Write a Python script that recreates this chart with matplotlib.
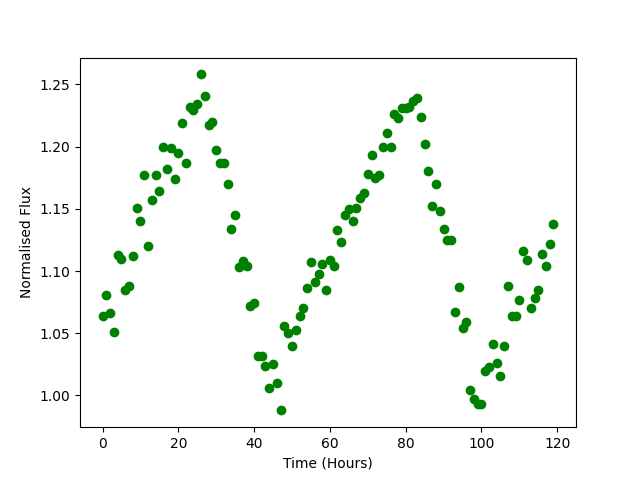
import numpy as np
import matplotlib
matplotlib.use('Agg')
import matplotlib.pyplot as plt

# hourly samples, 0..119 h
time_hours = np.arange(120)
flux = [
    1.064, 1.081, 1.066, 1.051, 1.113, 1.110, 1.085, 1.088, 1.112, 1.151,
    1.140, 1.177, 1.120, 1.157, 1.177, 1.164, 1.200, 1.182, 1.199, 1.174,
    1.195, 1.219, 1.187, 1.232, 1.229, 1.234, 1.258, 1.241, 1.217, 1.220,
    1.197, 1.187, 1.187, 1.170, 1.134, 1.145, 1.103, 1.108, 1.104, 1.072,
    1.074, 1.032, 1.032, 1.024, 1.006, 1.025, 1.010, 0.988, 1.056, 1.050,
    1.040, 1.053, 1.064, 1.070, 1.086, 1.107, 1.091, 1.098, 1.106, 1.085,
    1.109, 1.104, 1.133, 1.123, 1.145, 1.150, 1.140, 1.151, 1.159, 1.163,
    1.178, 1.193, 1.175, 1.177, 1.200, 1.211, 1.200, 1.226, 1.223, 1.231,
    1.231, 1.232, 1.237, 1.239, 1.224, 1.202, 1.180, 1.152, 1.170, 1.148,
    1.134, 1.125, 1.125, 1.067, 1.087, 1.054, 1.059, 1.004, 0.997, 0.993,
    0.993, 1.020, 1.023, 1.041, 1.026, 1.016, 1.040, 1.088, 1.064, 1.064,
    1.077, 1.116, 1.109, 1.070, 1.078, 1.085, 1.114, 1.104, 1.122, 1.138,
]

plt.figure(figsize=(6.4, 4.8), dpi=100)
plt.plot(time_hours, flux, 'go')
plt.xlabel('Time (Hours)')
plt.ylabel('Normalised Flux')
plt.savefig('out.png', dpi=100)
